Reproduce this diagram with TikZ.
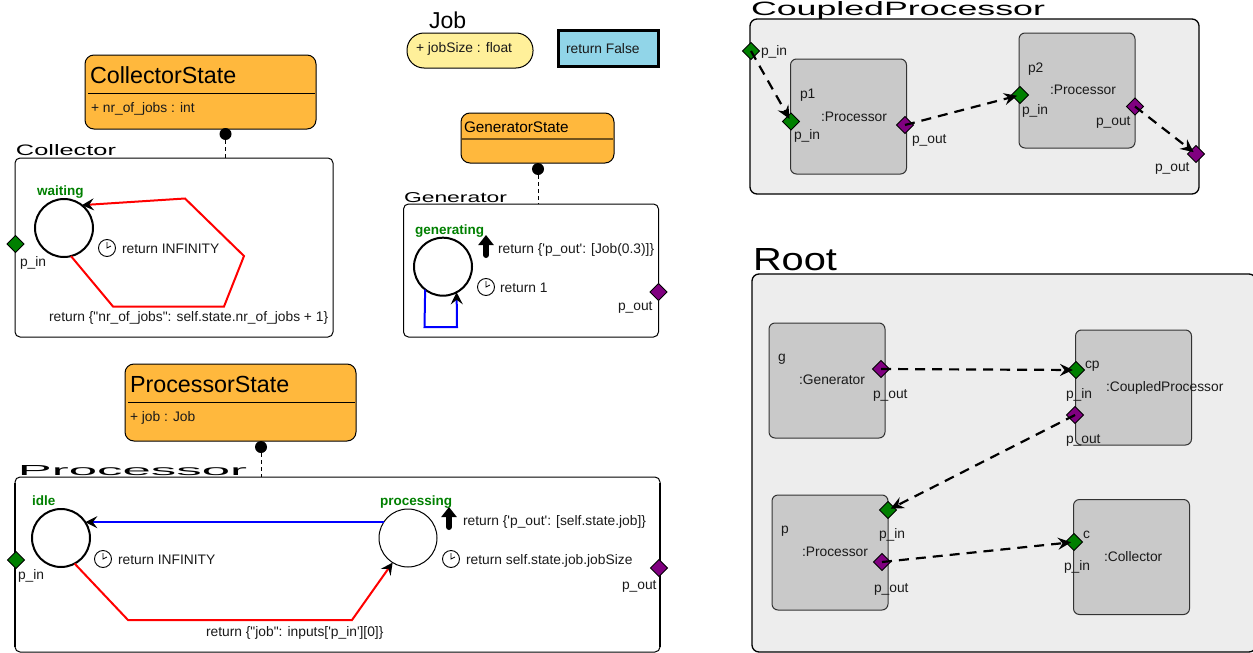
\documentclass[tikz,border=0pt]{standalone}
\usepackage{graphicx}
\usepackage{fontspec}
\setmainfont{Liberation Sans}
\newfontfamily\lib{Liberation Sans}
\usetikzlibrary{arrows.meta,shapes.geometric}
\definecolor{stateor}{HTML}{FFB83D}
\definecolor{compgray}{HTML}{C9C9C9}
\definecolor{outergray}{HTML}{EDEDED}
\definecolor{portgreen}{HTML}{008000}
\definecolor{portpurple}{HTML}{800080}
\definecolor{jobyellow}{HTML}{FFF09A}
\definecolor{actblue}{HTML}{91D5E8}
\definecolor{textdark}{HTML}{1A1A1A}
\tikzset{
  x=1pt,y=-1pt,
  lab/.style={anchor=base west,inner sep=0pt,outer sep=0pt,text=textdark,font=\lib\fontsize{13.8}{15}\selectfont},
  big/.style={lab,text=black,font=\lib\fontsize{23.3}{26}\selectfont},
  statename/.style={lab,text=portgreen,font=\lib\bfseries\fontsize{13.5}{15}\selectfont},
  ttl/.style={anchor=base west,inner sep=0pt,outer sep=0pt,text=black,font=\lib},
  stbox/.style={draw=black,line width=1pt,fill=stateor,rounded corners=9pt,inner sep=0pt,outer sep=0pt},
  whitebox/.style={draw=black,line width=1pt,fill=white,rounded corners=5pt,inner sep=0pt,outer sep=0pt},
  outerbox/.style={draw=black,line width=1.3pt,fill=outergray,rounded corners=7pt,inner sep=0pt,outer sep=0pt},
  compbox/.style={draw=black!80,line width=1pt,fill=compgray,rounded corners=6pt,inner sep=0pt,outer sep=0pt,minimum width=116pt,minimum height=115pt},
  statec/.style={circle,draw=black,line width=2pt,fill=white,inner sep=0pt,outer sep=0pt,minimum size=58pt},
  dotc/.style={circle,fill=black,inner sep=0pt,outer sep=0pt,minimum size=12pt},
  portin/.style={diamond,draw=black,line width=0.8pt,fill=portgreen,inner sep=0pt,outer sep=0pt,minimum width=17pt,minimum height=17pt,aspect=1},
  portout/.style={portin,fill=portpurple},
  clockc/.style={circle,draw=black,line width=0.9pt,fill=white,inner sep=0pt,outer sep=0pt,minimum size=17pt},
  upa/.style={black,line width=6pt,line cap=round,-{Triangle[length=10pt,width=15pt]}},
  link/.style={black,line width=2.2pt,dash pattern=on 10pt off 7pt,shorten >=3pt,-{Stealth[length=13pt,width=12pt,inset=4.5pt]}},
  assoc/.style={black,line width=1pt,dash pattern=on 4pt off 3pt},
  trred/.style={red,line width=2pt,line join=miter,-{Stealth[length=12pt,width=12pt,inset=4.5pt,color=black]}},
  trblue/.style={blue,line width=2pt,line join=miter,-{Stealth[length=12pt,width=12pt,inset=4.5pt,color=black]}},
}
\newcommand\txt[3]{\node[lab] (#1) at (#2) {#3};}
\newcommand\ttlbox[5]{\node[ttl] (#1) at (#2) {\resizebox{#3pt}{#4pt}{#5}};}
\newcommand\clockicon[2]{\node[clockc] (#1) at (#2) {};
  \draw[line width=0.8pt] (#1.center) ++(0,-6) -- (#1.center) -- ++(4,-2);}
\begin{document}
\begin{tikzpicture}
\useasboundingbox (0,0) rectangle (1253,653);
\fill[white] (0,0) rectangle (1253,653);

% ---------- Collector
\node[stbox,minimum width=231pt,minimum height=74pt] (cstate) at (200.5,92) {};
\draw[line width=1pt] (88,93) -- (315,93);
\node[big] (cstatet) at (90,83) {CollectorState};
\txt{cattr}{91,112}{+ nr\_of\_jobs : int}
\node[whitebox,minimum width=318pt,minimum height=179pt] (collector) at (174,247.5) {};
\ttlbox{collectort}{16,155}{100}{11}{Collector}
\node[dotc] (cdot) at (225.5,134) {};
\draw[assoc] (cdot.south) -- (cdot.south |- collector.north);
\node[statec] (waiting) at (64,228) {};
\node[statename] (waitingt) at (37,195) {waiting};
\clockicon{cclock}{107,248}
\txt{cta}{122,253}{return INFINITY}
\txt{ctr}{49,321}{return \{"nr\_of\_jobs": self.state.nr\_of\_jobs + 1\}}
\node[portin] (cin) at (15.5,244) {};
\txt{cinl}{20,266}{p\_in}
\draw[trred] (waiting.-76) -- (113,306.5) -- (224,306.5) -- (244,256) -- (185,198.5) -- (waiting.52);

% ---------- Job and action
\node[ttl,font=\lib\fontsize{23}{26}\selectfont] (jobt) at (429,28) {Job};
\node[draw=black,line width=1pt,fill=jobyellow,rounded corners=17pt,inner sep=0pt,minimum width=126pt,minimum height=35pt] (job) at (470,50.5) {};
\txt{joba}{416,52}{+ jobSize : float}
\node[draw=black,line width=3pt,fill=actblue,inner sep=0pt,minimum width=100pt,minimum height=36pt] (act) at (608.5,48.5) {};
\txt{actt}{566,53}{return False}

% ---------- Generator
\node[stbox,minimum width=153pt,minimum height=50pt] (gstate) at (537.5,138) {};
\draw[line width=1.5pt,color=black!55!stateor] (462,139) -- (613,139);
\node[lab,text=black,font=\lib\fontsize{15.3}{18}\selectfont] (gstatet) at (464,132) {GeneratorState};
\node[whitebox,minimum width=255pt,minimum height=133pt] (generator) at (531,270.5) {};
\ttlbox{generatort}{404,202}{103}{10}{Generator}
\node[dotc] (gdot) at (538,169) {};
\draw[assoc] (gdot.south) -- (gdot.south |- generator.north);
\node[statec] (generating) at (443,266.7) {};
\node[statename] (generatingt) at (415,234) {generating};
\draw[upa] (486,255) -- (486,235);
\txt{gout}{498,253}{return \{'p\_out': [Job(0.3)]\}}
\clockicon{gclock}{486,287}
\txt{gta}{500,292}{return 1}
\node[portout] (gport) at (658.5,292) {};
\txt{gportl}{618,310}{p\_out}
\draw[trblue] (generating.232) -- (424.5,327) -- (457,327) -- (generating.-62);

% ---------- Processor
\node[stbox,minimum width=231pt,minimum height=77pt] (pstate) at (240.5,402.5) {};
\draw[line width=1pt] (128,402) -- (355,402);
\node[big] (pstatet) at (130,392) {ProcessorState};
\txt{pattr}{130,421}{+ job : Job}
\node[whitebox,minimum width=645pt,minimum height=175pt] (processor) at (337.5,564.5) {};
\draw[line width=2pt] (15,483) -- (15,647);
\draw[line width=2pt] (660,483) -- (660,647);
\ttlbox{processort}{18,475}{229}{10}{Processor}
\node[dotc] (pdot) at (261,447) {};
\draw[assoc] (pdot.south) -- (pdot.south |- processor.north);
\node[statec] (idle) at (61,538) {};
\node[statec,line width=1pt] (processing) at (408,538) {};
\node[statename] (idlet) at (32,505) {idle};
\node[statename] (processingt) at (380,505) {processing};
\draw[upa] (449,527) -- (449,507);
\txt{pout}{463,525}{return \{'p\_out': [self.state.job]\}}
\clockicon{pclocka}{103,559}
\txt{pta}{118,564}{return INFINITY}
\clockicon{pclockb}{451,559}
\txt{ptb}{466,564}{return self.state.job.jobSize}
\txt{ptr}{206,636}{return \{"job": inputs['p\_in'][0]\}}
\node[portin] (pin) at (16,560) {};
\txt{pinl}{18,579}{p\_in}
\node[portout] (poutp) at (659,568) {};
\txt{poutl}{622,589}{p\_out}
\draw[trblue] (processing.147) -- (idle.33);
\draw[trred] (idle.-62) -- (128,620) -- (352,620) -- (processing.238);

% ---------- CoupledProcessor
\ttlbox{cpt}{751,16}{294}{14}{CoupledProcessor}
\node[outerbox,minimum width=449pt,minimum height=175pt] (cpouter) at (974.5,106.5) {};
\node[compbox] (p1) at (848.5,116.5) {};
\node[compbox] (p2) at (1077,90.5) {};
\txt{p1l}{800,98}{p1}
\txt{p1n}{821,121}{:Processor}
\txt{p2l}{1028,72}{p2}
\txt{p2n}{1050,94}{:Processor}
\node[portin] (cpin) at (751,51) {};
\txt{cpinl}{761,55}{p\_in}
\node[portin] (p1in) at (791,121.5) {};
\txt{p1inl}{794,139}{p\_in}
\node[portout] (p1out) at (905,125) {};
\txt{p1outl}{912,143}{p\_out}
\node[portin] (p2in) at (1020,95) {};
\txt{p2inl}{1022,114}{p\_in}
\node[portout] (p2out) at (1135,106.5) {};
\txt{p2outl}{1096,125}{p\_out}
\node[portout] (cpout) at (1196,154) {};
\txt{cpoutl}{1155,171}{p\_out}
\draw[link] (cpin.center) -- (p1in.center);
\draw[link] (p1out.center) -- (p2in.center);
\draw[link] (p2out.center) -- (cpout.center);

% ---------- Root
\ttlbox{roott}{753,270}{84}{22}{Root}
\node[outerbox,minimum width=504pt,minimum height=378pt] (rootbox) at (1004,463) {};
\node[compbox] (gen) at (827,380.5) {};
\node[compbox] (cp) at (1133.5,387.5) {};
\node[compbox] (proc) at (830,552.5) {};
\node[compbox] (coll) at (1131.5,557) {};
\txt{genl}{778,361}{g}
\txt{genn}{799,384}{:Generator}
\txt{cpl}{1085,368}{cp}
\txt{cpn}{1106,391}{:CoupledProcessor}
\txt{procl}{781,533}{p}
\txt{procn}{802,556}{:Processor}
\txt{colll}{1083,538}{c}
\txt{colln}{1104,561}{:Collector}
\node[portout] (genout) at (881,369) {};
\txt{genoutl}{873,398}{p\_out}
\node[portin] (cpinr) at (1076,370) {};
\txt{cpinrl}{1066,398}{p\_in}
\node[portout] (cpoutr) at (1075,415) {};
\txt{cpoutrl}{1066,443}{p\_out}
\node[portin] (procin) at (888,510) {};
\txt{procinl}{879,538}{p\_in}
\node[portout] (procout) at (882,562) {};
\txt{procoutl}{874,592}{p\_out}
\node[portin] (collin) at (1074,542) {};
\txt{collinl}{1064,570}{p\_in}
\draw[link] (genout.center) -- (cpinr.center);
\draw[link] (cpoutr.center) -- (procin.center);
\draw[link] (procout.center) -- (collin.center);
\end{tikzpicture}
\end{document}
